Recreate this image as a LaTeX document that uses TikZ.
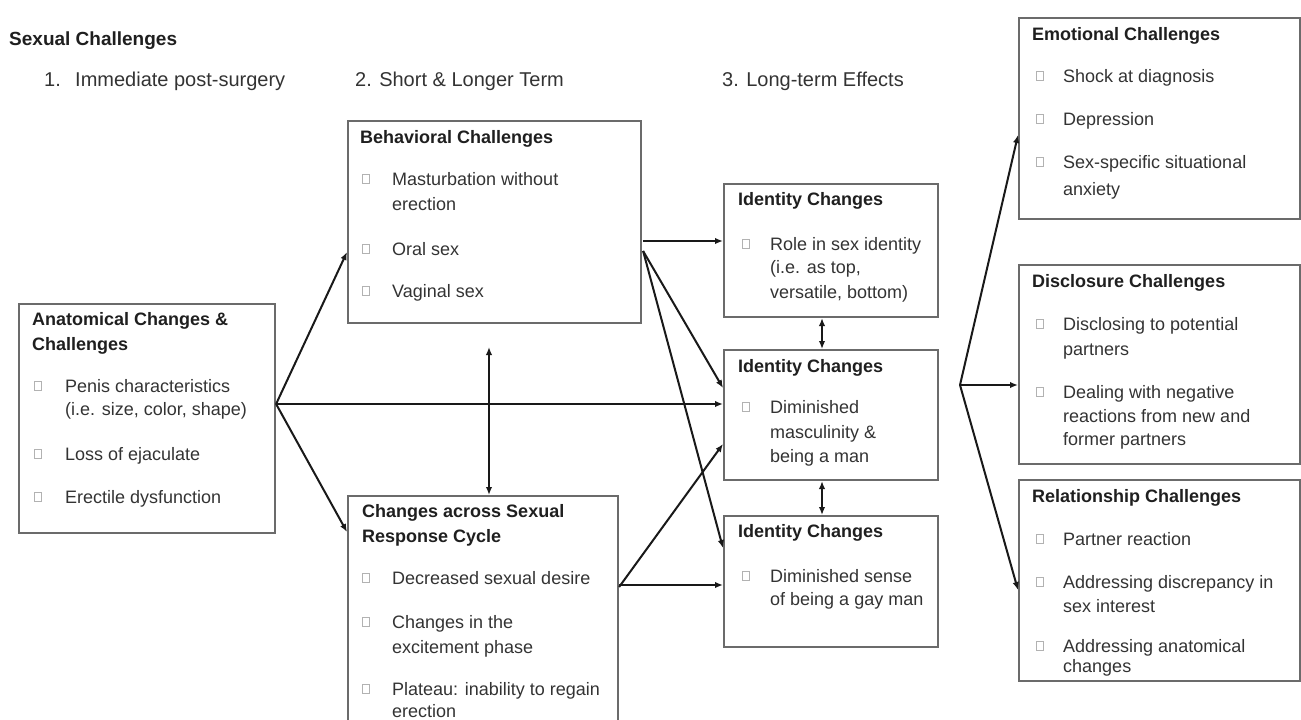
\documentclass[tikz,border=0pt]{standalone}
\usepackage{fontspec}
\setmainfont{Liberation Sans}
\usetikzlibrary{arrows.meta,calc}
\tikzset{
  box/.style={draw=black!58, line width=2.1pt, inner sep=0pt, anchor=north west},
  txt/.style={anchor=base west, inner sep=0pt, text=black!80, font=\fontsize{18}{22}\selectfont},
  ttl/.style={anchor=base west, inner sep=0pt, text=black!88, font=\fontsize{18}{22}\selectfont\bfseries},
  hd/.style={anchor=base west, inner sep=0pt, text=black!80, font=\fontsize{20}{24}\selectfont},
  sq/.style={draw=black!30, line width=0.9pt, minimum width=7pt, minimum height=9pt, inner sep=0pt, anchor=west},
  arr/.style={draw=black!90, line width=2pt, -{Latex[length=8pt,width=6.5pt]}},
  dbl/.style={draw=black!90, line width=2pt, {Latex[length=8pt,width=6.5pt]}-{Latex[length=8pt,width=6.5pt]}}
}
\newcommand{\mkT}[4]{\node[ttl] (#1) at (#2,#3) {#4};}
\newcommand{\mkL}[4]{\node[txt] (#1) at (#2,#3) {#4};}
\newcommand{\mkB}[5]{\node[sq] (#1b) at (#2,#4-6) {}; \node[txt] (#1) at (#3,#4) {#5};}
\begin{document}
\begin{tikzpicture}[x=1pt,y=-1pt]
\path[use as bounding box] (0,0) rectangle (1301,720);

% headings
\node[hd, font=\fontsize{19}{23}\selectfont\bfseries, text=black!88] (hsex) at (9,45) {Sexual Challenges};
\node[hd] (h1n) at (44,86) {1.};
\node[hd] (h1) at (75,86) {Immediate post-surgery};
\node[hd] (h2) at (355,86) {2. Short \& Longer Term};
\node[hd] (h3) at (722,86) {3. Long-term Effects};

% boxes
\node[box, minimum width=256pt, minimum height=229pt] (anat) at (18,303) {};
\node[box, minimum width=293pt, minimum height=202pt] (beh) at (347,120) {};
\node[box, minimum width=270pt, minimum height=245pt] (chg) at (347,495) {};
\node[box, minimum width=214pt, minimum height=133pt] (idA) at (723,183) {};
\node[box, minimum width=214pt, minimum height=130pt] (idB) at (723,349) {};
\node[box, minimum width=214pt, minimum height=131pt] (idC) at (723,515) {};
\node[box, minimum width=281pt, minimum height=201pt] (emo) at (1018,17) {};
\node[box, minimum width=281pt, minimum height=199pt] (dis) at (1018,264) {};
\node[box, minimum width=281pt, minimum height=201pt] (rel) at (1018,479) {};

% Anatomical
\mkT{anT1}{32}{325}{Anatomical Changes \&}
\mkT{anT2}{32}{350}{Challenges}
\mkB{anI1}{34}{65}{392}{Penis characteristics}
\mkL{anI1c}{65}{415}{(i.e. size, color, shape)}
\mkB{anI2}{34}{65}{460}{Loss of ejaculate}
\mkB{anI3}{34}{65}{503}{Erectile dysfunction}

% Behavioral
\mkT{beT}{360}{143}{Behavioral Challenges}
\mkB{beI1}{362}{392}{185}{Masturbation without}
\mkL{beI1c}{392}{210}{erection}
\mkB{beI2}{362}{392}{255}{Oral sex}
\mkB{beI3}{362}{392}{297}{Vaginal sex}

% Changes across
\mkT{chT1}{362}{517}{Changes across Sexual}
\mkT{chT2}{362}{542}{Response Cycle}
\mkB{chI1}{362}{392}{584}{Decreased sexual desire}
\mkB{chI2}{362}{392}{628}{Changes in the}
\mkL{chI2c}{392}{653}{excitement phase}
\mkB{chI3}{362}{392}{695}{Plateau: inability to regain}
\mkL{chI3c}{392}{717}{erection}

% Identity 1
\mkT{iaT}{738}{205}{Identity Changes}
\mkB{iaI1}{742}{770}{250}{Role in sex identity}
\mkL{iaI1c}{770}{273}{(i.e. as top,}
\mkL{iaI1d}{770}{298}{versatile, bottom)}

% Identity 2
\mkT{ibT}{738}{372}{Identity Changes}
\mkB{ibI1}{742}{770}{413}{Diminished}
\mkL{ibI1c}{770}{438}{masculinity \&}
\mkL{ibI1d}{770}{462}{being a man}

% Identity 3
\mkT{icT}{738}{537}{Identity Changes}
\mkB{icI1}{742}{770}{582}{Diminished sense}
\mkL{icI1c}{770}{605}{of being a gay man}

% Emotional
\mkT{emT}{1032}{40}{Emotional Challenges}
\mkB{emI1}{1036}{1063}{82}{Shock at diagnosis}
\mkB{emI2}{1036}{1063}{125}{Depression}
\mkB{emI3}{1036}{1063}{168}{Sex-specific situational}
\mkL{emI3c}{1063}{195}{anxiety}

% Disclosure
\mkT{diT}{1032}{287}{Disclosure Challenges}
\mkB{diI1}{1036}{1063}{330}{Disclosing to potential}
\mkL{diI1c}{1063}{355}{partners}
\mkB{diI2}{1036}{1063}{398}{Dealing with negative}
\mkL{diI2c}{1063}{422}{reactions from new and}
\mkL{diI2d}{1063}{445}{former partners}

% Relationship
\mkT{reT}{1032}{502}{Relationship Challenges}
\mkB{reI1}{1036}{1063}{545}{Partner reaction}
\mkB{reI2}{1036}{1063}{588}{Addressing discrepancy in}
\mkL{reI2c}{1063}{612}{sex interest}
\mkB{reI3}{1036}{1063}{652}{Addressing anatomical}
\mkL{reI3c}{1063}{672}{changes}

% free coordinates
\coordinate (vT) at (489,347);
\coordinate (rS) at (960,385);

% connectors
\draw[arr] ($(anat.north east)+(0,101)$) -- ($(beh.north west)+(0,132)$);
\draw[arr] ($(anat.north east)+(0,101)$) -- ($(idB.north west)+(0,55)$);
\draw[arr] ($(anat.north east)+(0,101)$) -- ($(chg.north west)+(0,37)$);
\draw[dbl] (vT) -- ($(chg.north west)+(142,0)$);
\draw[arr] ($(beh.north east)+(1,121)$) -- ($(idA.north west)+(0,58)$);
\draw[arr] ($(beh.north east)+(1,131)$) -- ($(idB.north west)+(0,39)$);
\draw[arr] ($(beh.north east)+(1,131)$) -- ($(idC.north west)+(0,33)$);
\draw[arr] ($(chg.north east)+(0,92)$) -- ($(idB.north west)+(0,95)$);
\draw[arr] ($(chg.north east)+(0,90)$) -- ($(idC.north west)+(0,70)$);
\draw[dbl] ($(idA.south west)+(99,0)$) -- ($(idB.north west)+(99,0)$);
\draw[dbl] ($(idB.south west)+(99,0)$) -- ($(idC.north west)+(99,0)$);
\draw[arr] (rS) -- ($(emo.north west)+(0,118)$);
\draw[arr] (rS) -- ($(dis.north west)+(0,121)$);
\draw[arr] (rS) -- ($(rel.north west)+(0,111)$);
\end{tikzpicture}
\end{document}
